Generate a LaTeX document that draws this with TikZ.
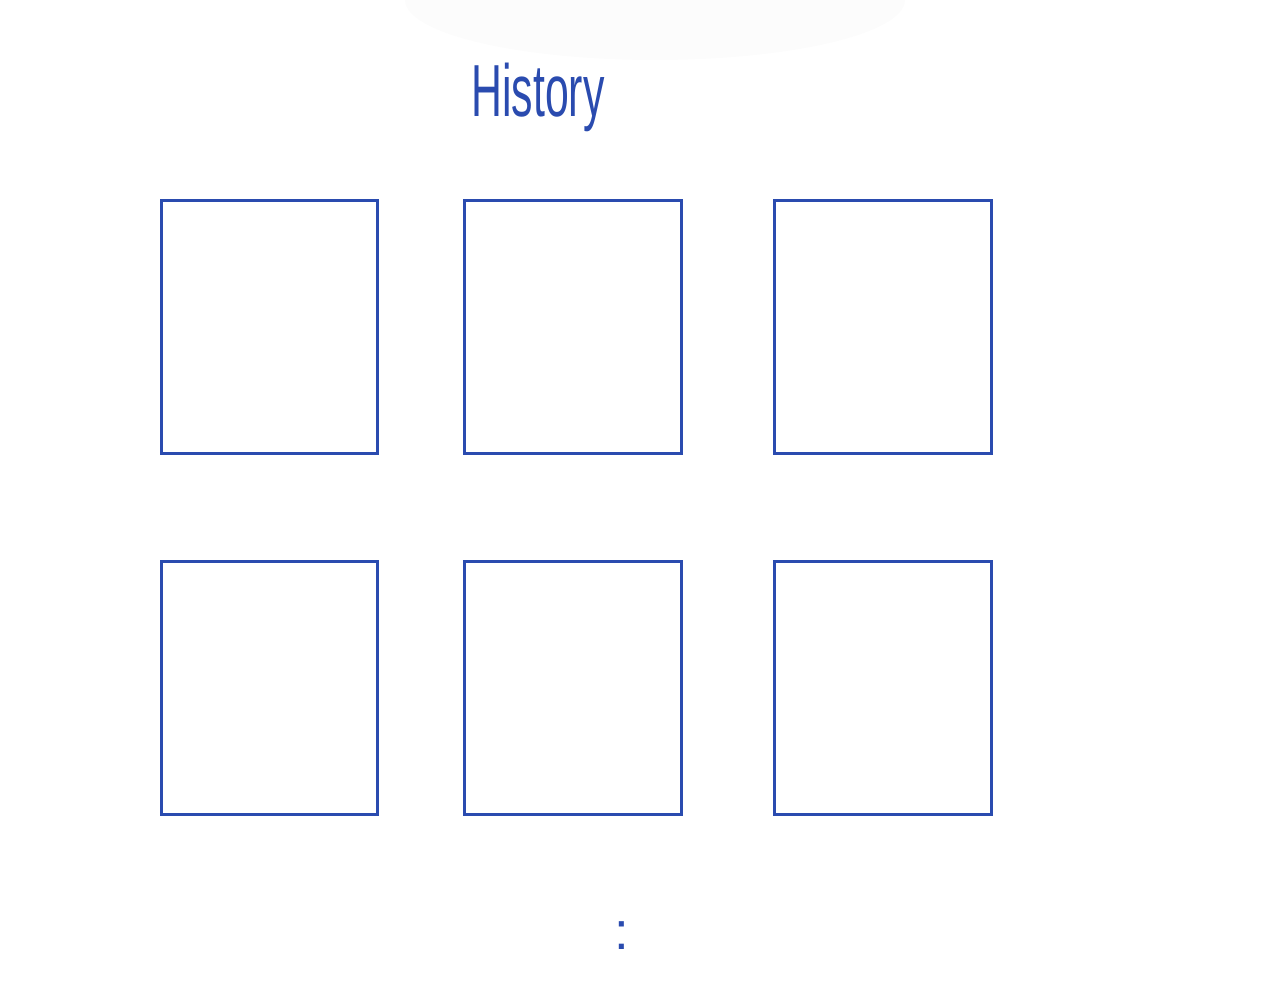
\documentclass[tikz,border=0pt]{standalone}
\usepackage{fontspec}
\setsansfont{Liberation Sans}
\definecolor{penblue}{HTML}{2A4BAF}
\tikzset{
  frame/.style={draw=penblue,line width=1.7pt,rectangle,inner sep=0pt,
    minimum width=4.34cm,minimum height=5.08cm},
  hand/.style={text=penblue,xscale=0.58,font=\sffamily\fontsize{42}{42}\selectfont}
}
\begin{document}
\begin{tikzpicture}[x=0.02cm,y=-0.02cm]
        \useasboundingbox (0,0) rectangle (1264,995);
        \fill[black!1.2] (655,0) ellipse (250 and 60);
        \node[hand] (title) at (538,97) {History};
        \node[frame] (f11) at (269.5,327) {};
        \node[frame] (f12) at (573,327) {};
        \node[frame] (f13) at (883,327) {};
        \node[frame] (f21) at (269.5,688) {};
        \node[frame] (f22) at (573,688) {};
        \node[frame] (f23) at (883,688) {};
        \node[text=penblue,font=\sffamily\fontsize{30}{30}\selectfont] (more) at (622,936) {:};
\end{tikzpicture}
\end{document}
